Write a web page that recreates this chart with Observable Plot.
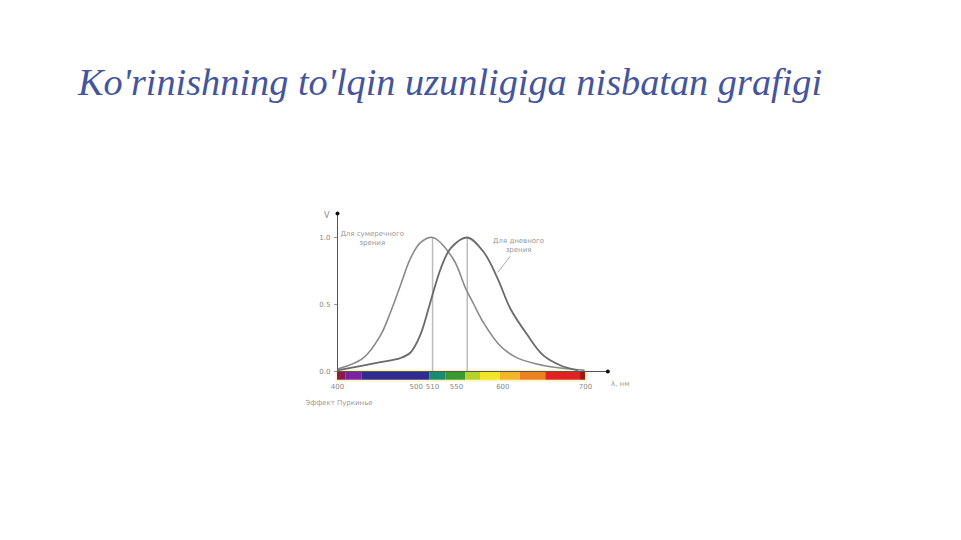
<!DOCTYPE html>
<html><head><meta charset="utf-8">
<script src="https://cdn.jsdelivr.net/npm/d3@7"></script>
<script src="https://cdn.jsdelivr.net/npm/@observablehq/plot@0.6"></script>
<style>
body{margin:0;background:#fff;width:961px;height:540px;overflow:hidden;}
#title{height:200px;position:relative;}
#title div{position:absolute;left:78px;top:60px;font-family:"Liberation Serif",serif;font-style:italic;font-size:38.3px;color:#45559c;white-space:nowrap;}
</style></head><body>
<div id="title"><div>Ko'rinishning to'lqin uzunligiga nisbatan grafigi</div></div>
<div id="chart"></div>
<script>
// wavelengths (nm) and relative sensitivity V
const scotopicNm = [401, 431, 452, 464, 476, 488, 500, 515, 540, 555, 565, 577, 597, 618, 649, 678, 698];
const scotopicV  = [0.02, 0.10, 0.27, 0.44, 0.64, 0.84, 0.96, 1.0, 0.84, 0.62, 0.50, 0.36, 0.19, 0.10, 0.045, 0.02, 0.01];
const photopicNm = [401, 452, 476, 488, 500, 512, 525, 537, 557, 577, 594, 609, 630, 649, 670, 690];
const photopicV  = [0.01, 0.07, 0.10, 0.14, 0.27, 0.51, 0.77, 0.92, 1.0, 0.89, 0.69, 0.47, 0.27, 0.12, 0.045, 0.01];
const xTicks = [400, 600, 700];
const xTicksLeft = [500];   // label nudged left
const xTicksRight = [510];  // label nudged right
const xTicksMid = [550];
const yTicks = [0, 0.5, 1];
const bandStart = [400, 410, 430, 512, 531, 555, 573, 597, 621, 652, 694];
const bandEnd   = [410, 430, 512, 531, 555, 573, 597, 621, 652, 694, 700];
const bandColor = ["#8a1a50", "#7a22a0", "#2e2c8e", "#1a8a70", "#3a9a30", "#b4d22a", "#f2e428", "#f2b428", "#ea8222", "#e02222", "#a01414"];
const labels = [
  {x: 442, y: 1.0, text: "Для сумеречного\nзрения"},
  {x: 619, y: 0.95, text: "Для дневного\nзрения"}
];

const scot = scotopicNm.map((x, i) => ({x, v: scotopicV[i]}));
const phot = photopicNm.map((x, i) => ({x, v: photopicV[i]}));
const peak = a => a.reduce((m, d) => d.v > m.v ? d : m);
const peaks = [peak(scot), peak(phot)];
const bands = bandStart.map((s, i) => ({s, e: bandEnd[i], c: bandColor[i]}));
const tickStyle = {tickSize: 0, tickPadding: 13, fontSize: 7, fill: "#888"};

const plot = Plot.plot({
  width: 961, height: 340,
  marginLeft: 337, marginRight: 376, marginTop: 37, marginBottom: 169,
  x: {domain: [400, 700]},
  y: {domain: [0, 1]},
  style: {fontFamily: "DejaVu Sans, sans-serif", background: "transparent"},
  marks: [
    Plot.rect([{}], {x1: 398, x2: 703, y1: 0.012, y2: -0.08, fill: "#fff5c8"}),
    Plot.rect(bands, {x1: "s", x2: "e", y1: -0.005, y2: -0.065, fill: "c"}),
    Plot.ruleY([0], {x1: 400, x2: 727, stroke: "#555", strokeWidth: 1}),
    Plot.ruleX([400], {y1: 0, y2: 1.18, stroke: "#555", strokeWidth: 1}),
    Plot.dot([{x: 727, y: 0}], {x: "x", y: "y", r: 2, fill: "#111", stroke: "none"}),
    Plot.dot([{x: 400, y: 1.18}], {x: "x", y: "y", r: 2, fill: "#111", stroke: "none"}),
    Plot.ruleX(peaks, {x: "x", y1: 0, y2: "v", stroke: "#bbb", strokeWidth: 1.5}),
    Plot.line(scot, {x: "x", y: "v", curve: "catmull-rom", stroke: "#8a8a8a", strokeWidth: 1.6}),
    Plot.line(phot, {x: "x", y: "v", curve: "catmull-rom", stroke: "#6a6a6a", strokeWidth: 1.8}),
    Plot.axisY(yTicks, {tickFormat: d3.format(".1f"), tickSize: 3, tickPadding: 4, fontSize: 7, fill: "#888", stroke: "#999"}),
    Plot.axisX(xTicks, tickStyle),
    Plot.axisX(xTicksLeft, {...tickStyle, dx: -4}),
    Plot.axisX(xTicksRight, {...tickStyle, dx: 4}),
    Plot.axisX(xTicksMid, {...tickStyle, dx: -5}),
    Plot.text(labels, {x: "x", y: "y", text: "text", fontSize: 7, fill: "#999", lineHeight: 1.3}),
    Plot.link([{x1: 609, y1: 0.86, x2: 594, y2: 0.74}], {x1: "x1", y1: "y1", x2: "x2", y2: "y2", stroke: "#aaa"}),
    Plot.text(["V"], {x: 387, y: 1.165, fontSize: 8, fill: "#888"}),
    Plot.text(["λ, нм"], {x: 742, y: -0.09, fontSize: 7, fill: "#999"}),
    Plot.text(["Эффект Пуркинье"], {x: 361, y: -0.23, textAnchor: "start", fontSize: 7, fill: "#999"})
  ]
});
document.getElementById("chart").append(plot);
</script>
</body></html>
